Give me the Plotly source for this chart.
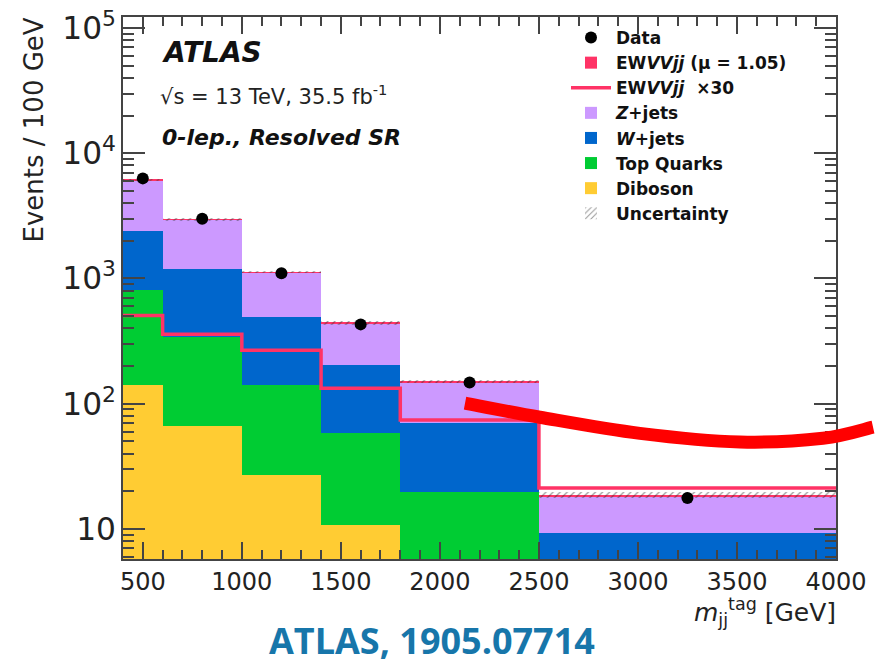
import math
import plotly.graph_objects as go

# ---------------- data ----------------
bin_edges = [400, 600, 1000, 1400, 1800, 2500, 4000]
diboson = [141, 66, 27, 10.8, 4.0, 1.2]
top_quarks = [666, 274, 113, 48, 15.7, 2.3]
w_jets = [1583, 860, 350, 144, 50, 5.8]
z_jets = [3710, 1750, 627, 234, 78, 8.7]
ewvvjj_mu = [17.7, 12.5, 9.3, 4.7, 2.6, 0.74]
ewvvjj_x30 = [507, 358, 267, 133, 74, 21.2]
data_x = [500, 800, 1200, 1600, 2150, 3250]
data_y = [6300, 3000, 1100, 430, 148, 17.7]
rel_unc = [0.02, 0.02, 0.025, 0.03, 0.03, 0.06]
# hand-drawn red annotation curve (GeV, events/100 GeV)
annot_x = [2127, 2505, 3010, 3515, 3934, 4187]
annot_y = [101, 78, 58, 49.5, 53, 65]

X_RANGE = [400, 4000]
Y_RANGE_LOG = [0.76, 5.088]

centers = [(a + b) / 2 for a, b in zip(bin_edges[:-1], bin_edges[1:])]
widths = [b - a for a, b in zip(bin_edges[:-1], bin_edges[1:])]
totals = [sum(v) for v in zip(diboson, top_quarks, w_jets, z_jets, ewvvjj_mu)]

FONT = "DejaVu Sans"
fig = go.Figure()

def add_stack(vals, name, color, rank):
    fig.add_trace(go.Bar(x=centers, y=vals, width=widths, name=name,
                         marker=dict(color=color, line=dict(width=0)),
                         legendrank=rank))

add_stack(diboson, "Diboson", "#FFCC33", 7)
add_stack(top_quarks, "Top Quarks", "#00CC33", 6)
add_stack(w_jets, "<i>W</i>+jets", "#0066CC", 5)
add_stack(z_jets, "<i>Z</i>+jets", "#CC99FF", 4)
add_stack(ewvvjj_mu, "EW<i>VVjj</i> (μ = 1.05)", "#FF3366", 2)

# uncertainty band
fig.add_trace(go.Bar(
    x=centers, y=[t * 2 * u for t, u in zip(totals, rel_unc)],
    base=[t * (1 - u) for t, u in zip(totals, rel_unc)],
    width=widths, name="Uncertainty",
    marker=dict(color="rgba(0,0,0,0)", line=dict(width=0),
                pattern=dict(shape="/", fgcolor="#333333", bgcolor="rgba(0,0,0,0)",
                             size=5, solidity=0.25)),
    legendrank=8))

# EWVVjj x30 step line
fig.add_trace(go.Scatter(
    x=bin_edges, y=ewvvjj_x30 + [ewvvjj_x30[-1]], mode="lines",
    line=dict(color="#FF3366", width=3.5, shape="hv"),
    name="EW<i>VVjj</i>  ×30", legendrank=3))

# data
fig.add_trace(go.Scatter(
    x=data_x, y=data_y, mode="markers",
    marker=dict(color="black", size=12),
    name="Data", legendrank=1))

# red annotation curve drawn as smooth Bezier path in paper coordinates
def to_paper(x, y):
    px = (x - X_RANGE[0]) / (X_RANGE[1] - X_RANGE[0])
    py = (math.log10(y) - Y_RANGE_LOG[0]) / (Y_RANGE_LOG[1] - Y_RANGE_LOG[0])
    return px, py

pts = [to_paper(x, y) for x, y in zip(annot_x, annot_y)]
path = "M %.5f,%.5f" % pts[0]
for i in range(len(pts) - 1):
    p0 = pts[max(i - 1, 0)]
    p1 = pts[i]
    p2 = pts[i + 1]
    p3 = pts[min(i + 2, len(pts) - 1)]
    c1 = (p1[0] + (p2[0] - p0[0]) / 6, p1[1] + (p2[1] - p0[1]) / 6)
    c2 = (p2[0] - (p3[0] - p1[0]) / 6, p2[1] - (p3[1] - p1[1]) / 6)
    path += " C %.5f,%.5f %.5f,%.5f %.5f,%.5f" % (c1 + c2 + p2)
fig.add_shape(type="path", path=path, xref="paper", yref="paper",
              line=dict(color="#FF0000", width=13), layer="above")

axis_common = dict(showline=True, linecolor="#444444", linewidth=2, mirror="allticks",
                   ticks="inside", tickcolor="#444444", tickwidth=2,
                   showgrid=False, zeroline=False, automargin=False)

fig.update_xaxes(range=X_RANGE, tick0=0, dtick=500, ticklen=17,
                 tickfont=dict(family=FONT, size=24, color="#222222"),
                 minor=dict(ticks="inside", dtick=100, ticklen=9, tickcolor="#444444", tickwidth=2),
                 **axis_common)
fig.update_yaxes(type="log", range=Y_RANGE_LOG, dtick=1, exponentformat="power", ticklen=22,
                 tickfont=dict(family=FONT, size=25, color="#222222"),
                 minor=dict(ticks="inside", ticklen=11, tickcolor="#444444", tickwidth=2),
                 **axis_common)

def px_x(p):
    return (p - 123) / 713

def px_y(p):
    return (559 - p) / 542

fig.update_layout(
    width=876, height=665,
    margin=dict(l=123, r=40, t=17, b=106),
    paper_bgcolor="white", plot_bgcolor="white",
    barmode="stack", bargap=0,
    showlegend=True,
    legend=dict(x=px_x(566), y=px_y(20), xanchor="left", yanchor="top",
                bgcolor="rgba(0,0,0,0)", itemwidth=40,
                font=dict(family=FONT, size=17, color="#111111", weight="bold"),
                traceorder="normal"),
    annotations=[
        dict(text="<b><i>ATLAS</i></b>", x=px_x(160), y=px_y(53),
             xref="paper", yref="paper", xanchor="left", yanchor="middle", showarrow=False,
             font=dict(family=FONT, size=28, color="#111111")),
        dict(text="√s = 13 TeV, 35.5 fb<sup>-1</sup>", x=px_x(158), y=px_y(95),
             xref="paper", yref="paper", xanchor="left", yanchor="middle", showarrow=False,
             font=dict(family=FONT, size=21, color="#222222")),
        dict(text="<b><i>0-lep., Resolved SR</i></b>", x=px_x(160), y=px_y(137),
             xref="paper", yref="paper", xanchor="left", yanchor="middle", showarrow=False,
             font=dict(family=FONT, size=22, color="#111111")),
        dict(text="Events / 100 GeV", textangle=-90, x=px_x(34), y=px_y(16),
             xref="paper", yref="paper", xanchor="center", yanchor="top", showarrow=False,
             font=dict(family=FONT, size=26, color="#222222")),
        dict(text="<i>m</i><sub>jj</sub><sup>tag</sup> [GeV]", x=px_x(838), y=px_y(612),
             xref="paper", yref="paper", xanchor="right", yanchor="middle", showarrow=False,
             font=dict(family=FONT, size=25, color="#222222")),
        dict(text="<b>ATLAS, 1905.07714</b>", x=px_x(432), y=px_y(640),
             xref="paper", yref="paper", xanchor="center", yanchor="middle", showarrow=False,
             font=dict(family="Open Sans", size=36, color="#1776AA")),
    ],
)

fig.write_html("out.html", config={"displayModeBar": False},
               post_script="document.body.style.margin='0';document.body.style.overflow='hidden';")
